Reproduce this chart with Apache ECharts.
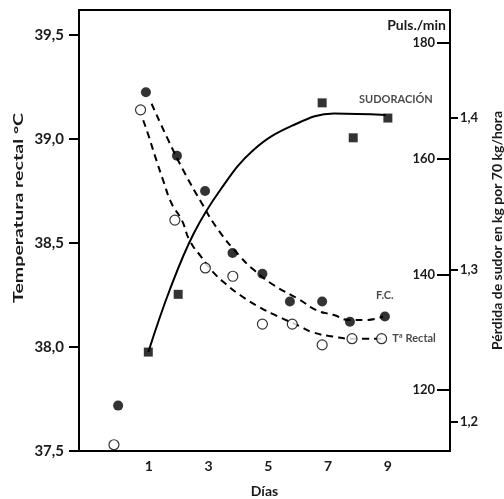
<!DOCTYPE html>
<html><head><meta charset="utf-8">
<script src="https://cdn.jsdelivr.net/npm/echarts@6/dist/echarts.min.js"></script>
<style>html,body{margin:0;padding:0;background:#fff}#c{width:504px;height:499px}</style>
</head><body><div id="c"></div>
<script>
// ---- data ----
const dayTicks = [1, 3, 5, 7, 9];
const tempTicks = [37.5, 38, 38.5, 39, 39.5];
const pulsTicks = [120, 140, 160, 180];
const sweatTicks = [1.2, 1.3, 1.4];

// F.C. (heart rate, puls./min) – filled circles
const fcDays = [-0.03, 0.9, 1.94, 2.88, 3.8, 4.8, 5.72, 6.8, 7.73, 8.9];
const fcPuls = [117.3, 171.5, 160.5, 154.4, 143.7, 140.1, 135.3, 135.3, 131.8, 132.7];
// Rectal temperature – open circles
const trDays = [-0.17, 0.72, 1.87, 2.89, 3.81, 4.8, 5.8, 6.8, 7.8, 8.79];
const trTemp = [37.53, 39.14, 38.61, 38.38, 38.34, 38.11, 38.11, 38.01, 38.04, 38.04];
// Sweat loss (kg per 70 kg/hour) – squares
const swDays = [0.98, 1.98, 6.8, 7.84, 9.0];
const swLoss = [1.246, 1.284, 1.41, 1.387, 1.40];

// fitted curves as drawn in the figure
const fcCurveDays = [1.09, 1.65, 2.15, 2.77, 3.32, 4.05, 4.55, 5.16, 6.05, 6.61, 7.17, 7.73, 8.23, 8.84];
const fcCurvePuls = [169.5, 163.2, 158.0, 152.3, 147.7, 143.1, 140.6, 138.2, 135.6, 133.8, 133.0, 132.1, 132.1, 132.7];
const trCurveDays = [0.81, 0.98, 1.2, 1.48, 1.76, 2.1, 2.37, 2.77, 3.15, 3.6, 4.05, 4.72, 5.28, 6.05, 6.5, 7.17, 7.84, 8.79];
const trCurveTemp = [39.09, 39.02, 38.92, 38.80, 38.69, 38.61, 38.51, 38.43, 38.36, 38.30, 38.25, 38.19, 38.15, 38.10, 38.07, 38.05, 38.04, 38.04];
const swCurveDays = [0.98, 1.7, 2.5, 3.4, 4.5, 5.8, 7.2, 8.93];
const swCurveLoss = [1.246, 1.287, 1.324, 1.353, 1.379, 1.395, 1.403, 1.402];

const labelTexts = { fc: 'F.C.', tr: 'Tª Rectal', sw: 'SUDORACIÓN' };
const leftTitle = 'Temperatura rectal °C';

// ---- chart ----
const FONT = 'Lato';
const INK = '#1a1a1a';
const comma = v => v.toFixed(1).replace('.', ',');
const pairs = (xs, ys) => xs.map((x, i) => [x, ys[i]]);
function withLastLabel(arr, label) {
  const d = arr.slice();
  const last = d.length - 1;
  d[last] = { value: d[last], label: Object.assign({ show: true }, label) };
  return d;
}
const axisLineStyle = { show: true, onZero: false, lineStyle: { color: '#000', width: 2 } };

const chart = echarts.init(document.getElementById('c'), null, { renderer: 'canvas' });
chart.setOption({
  animation: false,
  backgroundColor: '#fff',
  textStyle: { fontFamily: FONT },
  grid: { left: 79, right: 54, top: 10, bottom: 48, show: true, borderColor: '#000', borderWidth: 2, containLabel: false, outerBoundsMode: 'none' },
  graphic: [{
    type: 'text', x: 18.5, y: 208, rotation: Math.PI / 2, scaleX: 1.4, scaleY: 1,
    style: { text: leftTitle, fill: INK, fontSize: 14, fontWeight: 'bold', fontFamily: FONT, align: 'center', verticalAlign: 'middle' }
  }],
  xAxis: {
    type: 'value', min: -1.34, max: 11.08,
    axisLine: axisLineStyle,
    axisTick: { show: false },
    splitLine: { show: false },
    axisLabel: { customValues: dayTicks, color: INK, fontSize: 14, fontWeight: 'bold', fontFamily: FONT, margin: 8 },
    name: 'Días', nameLocation: 'middle', nameGap: 33,
    nameTextStyle: { color: INK, fontSize: 14, fontWeight: 'bold', fontFamily: FONT }
  },
  yAxis: [
    {
      type: 'value', position: 'left', min: 37.5, max: 39.62,
      axisLine: axisLineStyle,
      axisTick: { show: true, length: 10, customValues: tempTicks, lineStyle: { color: '#000', width: 2 } },
      splitLine: { show: false },
      axisLabel: { customValues: tempTicks, formatter: comma, color: INK, fontSize: 15, fontWeight: 'bold', fontFamily: FONT, margin: 15 }
    },
    {
      type: 'value', position: 'right', offset: 0, min: 1.1809, max: 1.4711,
      axisLine: axisLineStyle,
      axisTick: { show: true, length: 8, customValues: sweatTicks, lineStyle: { color: '#000', width: 2 } },
      splitLine: { show: false },
      axisLabel: { customValues: sweatTicks, formatter: comma, color: INK, fontSize: 13, fontWeight: 'bold', fontFamily: FONT, margin: 10 },
      name: 'Pérdida de sudor en kg por 70 kg/hora', nameLocation: 'middle', nameGap: 40, nameRotate: 90,
      nameTextStyle: { color: INK, fontSize: 14, fontWeight: 'bold', fontFamily: FONT }
    },
    {
      type: 'value', position: 'right', offset: 0, min: 109.45, max: 185.71,
      axisLine: axisLineStyle,
      axisTick: { show: true, inside: true, length: 13, customValues: pulsTicks, lineStyle: { color: '#000', width: 2 } },
      splitLine: { show: false },
      axisLabel: { inside: true, customValues: pulsTicks, color: INK, fontSize: 13, fontWeight: 'bold', fontFamily: FONT, margin: 15 },
      name: 'Puls./min', nameLocation: 'end', nameGap: -15,
      nameTextStyle: { color: INK, fontSize: 14, fontWeight: 'bold', fontFamily: FONT, align: 'right', verticalAlign: 'middle', padding: [0, 4, 0, 0] }
    }
  ],
  series: [
    {
      name: 'F.C. curva', type: 'line', yAxisIndex: 2, smooth: true, showSymbol: false, symbol: 'none',
      data: pairs(fcCurveDays, fcCurvePuls),
      lineStyle: { color: '#000', width: 2, type: [7, 5] }, z: 2
    },
    {
      name: 'Tª curva', type: 'line', yAxisIndex: 0, smooth: true, showSymbol: false, symbol: 'none',
      data: pairs(trCurveDays, trCurveTemp),
      lineStyle: { color: '#000', width: 2, type: [7, 5] }, z: 2
    },
    {
      name: 'Sudoración curva', type: 'line', yAxisIndex: 1, smooth: 0.4, showSymbol: false, symbol: 'none',
      data: pairs(swCurveDays, swCurveLoss),
      lineStyle: { color: '#000', width: 2 }, z: 2
    },
    {
      name: 'F.C.', type: 'scatter', yAxisIndex: 2, symbol: 'circle', symbolSize: 10,
      itemStyle: { color: '#000' },
      data: withLastLabel(pairs(fcDays, fcPuls), { formatter: labelTexts.fc, position: 'top', distance: 11, color: INK, fontSize: 11, fontWeight: 'bold', fontFamily: FONT }),
      z: 5
    },
    {
      name: 'Tª Rectal', type: 'scatter', yAxisIndex: 0, symbol: 'circle', symbolSize: 10,
      itemStyle: { color: '#fff', borderColor: '#000', borderWidth: 1.2 },
      data: withLastLabel(pairs(trDays, trTemp), { formatter: labelTexts.tr, position: 'right', distance: 5, color: INK, fontSize: 11, fontWeight: 'bold', fontFamily: FONT }),
      z: 5
    },
    {
      name: 'Sudoración', type: 'scatter', yAxisIndex: 1, symbol: 'rect', symbolSize: 9,
      itemStyle: { color: '#000' },
      data: withLastLabel(pairs(swDays, swLoss), { formatter: labelTexts.sw, position: 'top', distance: 9, offset: [8, 0], color: INK, fontSize: 11, fontWeight: 'bold', fontFamily: FONT }),
      z: 5
    }
  ]
});
</script>
</body></html>
